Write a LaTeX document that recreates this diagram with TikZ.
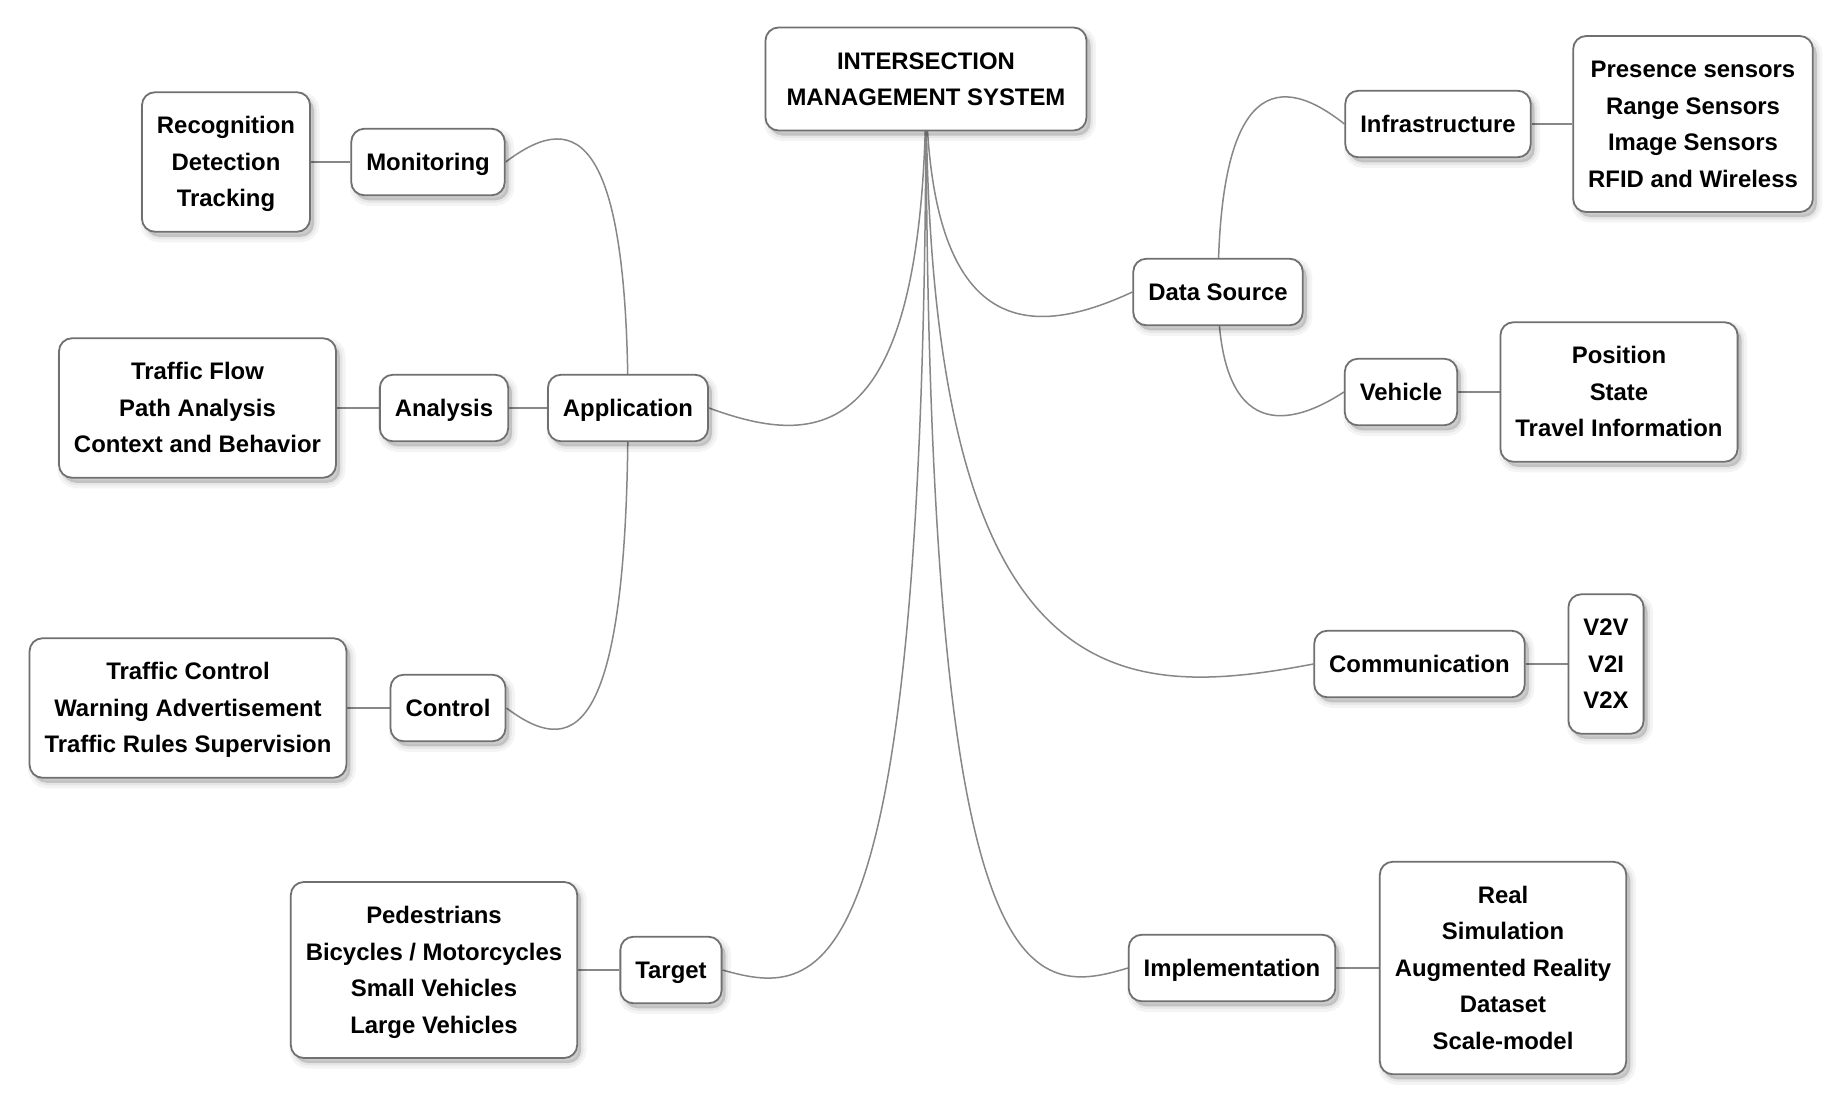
\documentclass[tikz,border=0pt]{standalone}
\usepackage{fontspec}
\setmainfont{Liberation Sans}
\usetikzlibrary{shadows}
\pgfdeclarelayer{bg}
\pgfdeclarelayer{edges}
\pgfsetlayers{bg,edges,main}
\definecolor{boxgray}{HTML}{707070}
\definecolor{linkgray}{HTML}{878787}
% fixed line box so every text block gets the same top and bottom room
\newcommand\linestrut{\rule[-9.9pt]{0pt}{36.5pt}}
\newcommand\tbox[1]{\linestrut#1\linestrut}

\begin{document}
\begin{tikzpicture}[x=1pt,y=-1pt,
  softshadow/.style={
    general shadow={fill=black, fill opacity=0.045, draw=black, draw opacity=0.045,
      line width=11pt, shadow xshift=4pt, shadow yshift=-5pt},
    general shadow={fill=black, fill opacity=0.05, draw=black, draw opacity=0.05,
      line width=5pt, shadow xshift=4pt, shadow yshift=-5pt},
    general shadow={fill=black, fill opacity=0.07, shadow xshift=4pt, shadow yshift=-5pt}},
  topic/.style={softshadow, draw=boxgray, line width=1.8pt, fill=white, rounded corners=13pt,
    align=center, inner xsep=15pt, inner ysep=15pt,
    font=\fontsize{23.9pt}{36.5pt}\selectfont\bfseries},
  link/.style={draw=linkgray, line width=1.5pt}]

\begin{pgfonlayer}{bg}
  \fill[white] (0,0) rectangle (1844,1104);
\end{pgfonlayer}
\useasboundingbox (0,0) rectangle (1844,1104);

% root
\node[topic, minimum width=321pt] (root) at (926,79) {\tbox{INTERSECTION\\MANAGEMENT SYSTEM}};

% left branch
\node[topic] (app) at (628,408) {\tbox{Application}};
\node[topic] (mon) at (428,162) {\tbox{Monitoring}};
\node[topic] (rec) at (226,162) {\tbox{Recognition\\Detection\\Tracking}};
\node[topic] (ana) at (444,408) {\tbox{Analysis}};
\node[topic] (flow) at (197.5,408) {\tbox{Traffic Flow\\Path Analysis\\Context and Behavior}};
\node[topic] (ctl) at (448,708) {\tbox{Control}};
\node[topic] (tctl) at (188,708) {\tbox{Traffic Control\\Warning Advertisement\\Traffic Rules Supervision}};
\node[topic] (tgt) at (671,970) {\tbox{Target}};
\node[topic] (ped) at (434,970) {\tbox{Pedestrians\\Bicycles / Motorcycles\\Small Vehicles\\Large Vehicles}};

% right branch
\node[topic] (ds) at (1218,292) {\tbox{Data Source}};
\node[topic] (infra) at (1438,124) {\tbox{Infrastructure}};
\node[topic] (sens) at (1693,124) {\tbox{Presence sensors\\Range Sensors\\Image Sensors\\RFID and Wireless}};
\node[topic] (veh) at (1401,392) {\tbox{Vehicle}};
\node[topic] (pos) at (1619,392) {\tbox{Position\\State\\Travel Information}};
\node[topic] (comm) at (1419.5,664) {\tbox{Communication}};
\node[topic] (v2x) at (1606,664) {\tbox{V2V\\V2I\\V2X}};
\node[topic] (impl) at (1232,968) {\tbox{Implementation}};
\node[topic] (real) at (1503,968) {\tbox{Real\\Simulation\\Augmented Reality\\Dataset\\Scale-model}};

\begin{pgfonlayer}{edges}
  % curved links leave the parent from its centre
  \draw[link] (root.center) .. controls +(0,369) and +(109.5,40) .. (app.east);
  \draw[link] (root.center) .. controls +(0,261) and +(-103,48) .. (ds.west);
  \draw[link] (root.center) .. controls +(0,622) and +(-194.5,37) .. (comm.west);
  \draw[link] (root.center) .. controls +(0,920) and +(-101.5,31) .. (impl.west);
  \draw[link] (root.center) .. controls +(0,920) and +(102,29) .. (tgt.east);
  \draw[link] (app.center) .. controls +(0,-293) and +(62.5,-47) .. (mon.east);
  \draw[link] (app.center) .. controls +(0,346) and +(62,46) .. (ctl.east);
  \draw[link] (ds.center) .. controls +(0,-218) and +(-63,-50) .. (infra.west);
  \draw[link] (ds.center) .. controls +(0,141) and +(-63,41) .. (veh.west);
  % straight links to leaf lists
  \draw[link] (app.west) -- (ana.east);
  \draw[link] (mon.west) -- (rec.east);
  \draw[link] (ana.west) -- (flow.east);
  \draw[link] (ctl.west) -- (tctl.east);
  \draw[link] (tgt.west) -- (ped.east);
  \draw[link] (infra.east) -- (sens.west);
  \draw[link] (veh.east) -- (pos.west);
  \draw[link] (comm.east) -- (v2x.west);
  \draw[link] (impl.east) -- (real.west);
\end{pgfonlayer}
\end{tikzpicture}
\end{document}
